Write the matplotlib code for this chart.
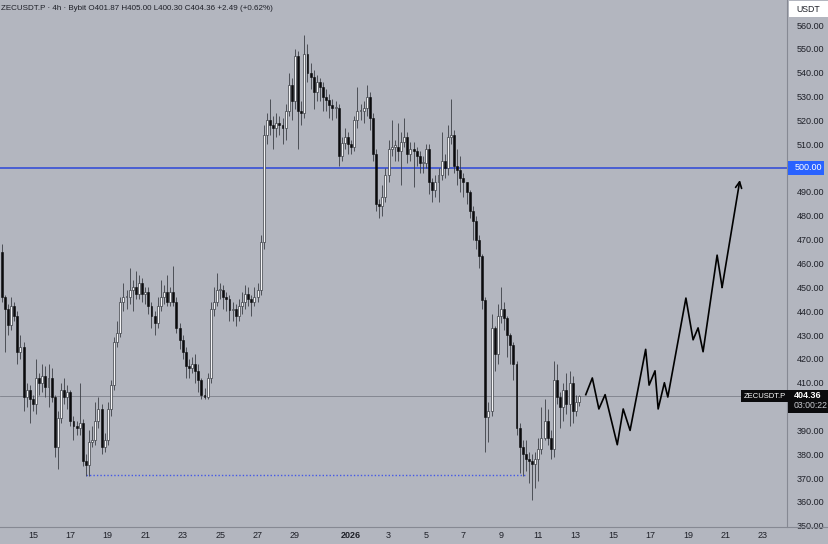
import matplotlib
matplotlib.use("Agg")
import matplotlib.pyplot as plt
import matplotlib.dates as mdates
from matplotlib.lines import Line2D
from matplotlib.patches import Rectangle
import numpy as np
import pandas as pd

plt.rcParams['font.family'] = ['Liberation Sans', 'DejaVu Sans']

# 4h candles of ZECUSDT.P
first_open = 465.0
closes = [
    446, 441, 434, 442, 438, 423, 425, 404, 407, 403,
    401, 412, 410, 413, 408, 412, 404, 383, 395, 407,
    404, 406, 394, 392, 391, 393, 377, 375.5, 385, 386,
    394, 399, 383, 386, 399, 409, 427, 431, 444, 446,
    446, 449, 450, 447, 452, 447, 448, 442, 438, 435,
    442, 446, 448, 444, 448, 444, 433, 428, 423, 417,
    416, 418, 415, 411, 405, 404, 412, 441, 444, 449,
    449, 446, 445, 440.5, 441, 438, 442, 444, 447, 445,
    444, 446, 449, 469, 514,
    520, 518, 517, 519, 518, 517, 524, 535, 528, 547,
    524, 523, 548, 540, 538, 532, 536, 534, 530, 528.6,
    526.5, 525, 525, 505, 510.5, 513, 510, 509, 520, 524,
    524, 525, 530, 521, 506, 485,
    484, 488, 497, 508, 509, 509, 507, 511, 513, 506,
    508, 507, 505, 502, 502, 508, 494, 491, 494, 497,
    503, 500, 513, 514, 501, 499, 496, 494, 490, 482,
    478, 470, 463,
    444.7, 395.6, 398, 433, 422, 438, 441, 437, 430, 426,
    418, 391, 383, 380, 378, 377, 376, 378, 382, 387,
    394, 387, 382, 411, 404, 400, 407, 401, 410, 398,
    401.87, 404.36,
]
highs = [
    468, 447, 443, 446, 444, 440, 430, 427, 410, 409,
    405, 420, 414, 418, 417, 418, 416, 405, 398, 410,
    412, 409, 407, 396, 394, 410, 395, 380, 390, 392,
    402, 404, 401, 389, 402, 411, 429, 436, 446, 452,
    449, 458, 453, 457, 455, 454, 450, 450, 444, 440,
    446, 453, 451, 455, 450, 459, 446, 435, 430, 425,
    420, 421, 422, 418, 412, 408, 414, 444, 450, 456,
    452, 451, 448, 447, 444, 443, 445, 448, 451, 450,
    447, 450, 452, 472, 518,
    523, 529, 522, 523, 522, 521, 527, 540, 538, 550,
    549, 528, 556, 552, 544, 541, 539, 538, 536, 533,
    531, 529, 528, 527, 513, 517, 515, 512, 522, 534,
    527, 528, 535, 532, 523, 508,
    487, 493, 500, 512, 520, 512, 519, 515, 521, 515,
    511, 511, 509, 507, 505, 510, 510, 496, 497, 500,
    515, 506, 518, 529, 516, 508, 505, 498, 494, 491,
    484, 480, 472,
    464, 446, 402, 439, 434, 443, 450, 444, 438, 431,
    427, 419, 393, 386, 386, 381, 380, 381, 387, 400,
    403, 399, 390, 419, 418, 406, 410, 414, 415, 413,
    405, 405,
]
lows = [
    444, 423, 430, 432, 436, 418, 420, 398, 400, 393,
    398, 397, 405, 406, 404, 400, 402, 379, 374, 393,
    401, 399, 392, 386, 388, 388, 375, 371, 371, 383,
    384, 391, 380, 381, 384, 396, 407, 425, 429, 440,
    441, 443, 440, 445, 445, 444, 443, 439, 433, 430,
    433, 440, 443, 442, 442, 442, 431, 424, 420, 412,
    412, 414, 410, 406, 403, 403, 403, 410, 438, 442,
    445, 441, 440, 436, 436, 434, 436, 439, 441, 442,
    438, 442, 444, 447, 466,
    510, 514, 508, 513, 514, 510, 512, 522, 520, 525,
    508, 518, 521, 536, 533, 525, 528, 528, 524, 524,
    521, 520, 521, 501, 503, 508, 506, 506, 507, 517,
    520, 519, 522, 516, 503, 482,
    479, 480, 486, 494, 505, 503, 503, 493, 509, 502,
    503, 492, 501, 498, 498, 500, 489, 486, 488, 486,
    495, 496, 497, 510, 498, 493, 490, 488, 485, 479,
    470, 466, 458,
    441, 381, 385, 396, 415, 418, 435, 432, 421, 418,
    411, 388, 372, 371, 373, 368, 361, 366, 369, 380,
    386, 384, 378, 379, 401, 391, 394, 397, 392, 393,
    396, 400.3,
]
assert len(closes) == len(highs) == len(lows) == 186

# hand-drawn projection
proj_times = ['2026-01-13 12:48', '2026-01-13 21:12', '2026-01-14 05:36', '2026-01-14 13:36',
              '2026-01-15 05:12', '2026-01-15 12:48', '2026-01-15 21:36', '2026-01-16 17:36',
              '2026-01-16 22:00', '2026-01-17 05:36', '2026-01-17 09:36', '2026-01-17 17:36',
              '2026-01-17 22:00', '2026-01-18 21:12', '2026-01-19 06:24', '2026-01-19 12:48',
              '2026-01-19 19:12', '2026-01-20 13:12', '2026-01-20 19:36', '2026-01-21 18:24']
proj_prices = [405, 412, 399, 405, 384, 399, 390, 424, 409, 415,
               399, 410, 404, 445.5, 428, 433, 423, 463.5, 450, 495]

level_blue = 500.0
level_dotted = 371.3
dotted_start, dotted_end = '2025-12-17 20:00', '2026-01-10 10:00'

tick_dates = ['2025-12-15', '2025-12-17', '2025-12-19', '2025-12-21', '2025-12-23',
              '2025-12-25', '2025-12-27', '2025-12-29', '2026-01-01', '2026-01-03',
              '2026-01-05', '2026-01-07', '2026-01-09', '2026-01-11', '2026-01-13',
              '2026-01-15', '2026-01-17', '2026-01-19', '2026-01-21', '2026-01-23']
tick_labels = ['15', '17', '19', '21', '23', '25', '27', '29', '2026', '3',
               '5', '7', '9', '11', '13', '15', '17', '19', '21', '23']
price_ticks = list(range(350, 570, 10))
hidden_ticks = [400, 500]   # covered by the price boxes

bg = '#b3b6bf'
fig = plt.figure(figsize=(8.29, 5.44), dpi=100, facecolor=bg)
ax = fig.add_axes([0, 17 / 544, 787 / 829, 527 / 544], facecolor=bg)

times = pd.date_range('2025-12-13 08:00', periods=len(closes), freq='4h')
x = mdates.date2num(times)
opens = [first_open] + closes[:-1]
step = 4 / 24
w = step * 0.62

ax.vlines(x, lows, highs, color='#3c3f46', lw=0.6, zorder=2)
for xi, o, c in zip(x, opens, closes):
    bot = min(o, c)
    h = max(abs(c - o), 0.5)
    if c < o:
        ax.bar(xi, h, bottom=bot, width=w, color='#0b0b0d', edgecolor='#0b0b0d', lw=0.4, zorder=3)
    else:
        ax.bar(xi, h, bottom=bot, width=w, color='#f4f4f6', edgecolor='#3c3f46', lw=0.5, zorder=3)

# levels
ax.axhline(level_blue, color='#2c46d8', lw=1.1, zorder=1)
ax.axhline(closes[-1], color='#7d808a', lw=0.6, zorder=1)
ax.hlines(level_dotted, mdates.date2num(pd.Timestamp(dotted_start)),
          mdates.date2num(pd.Timestamp(dotted_end)), color='#4458e6', lw=1.0,
          linestyles=(0, (1, 1.5)), zorder=1)

# projection path
px = mdates.date2num(pd.to_datetime(proj_times))
ax.plot(px[:-1], proj_prices[:-1], color='black', lw=1.2, zorder=4)
ax.annotate('', xy=(px[-1], proj_prices[-1]), xytext=(px[-2], proj_prices[-2]),
            arrowprops=dict(arrowstyle='->', lw=1.2, color='black', mutation_scale=11,
                            shrinkA=0, shrinkB=0), zorder=4)

x0 = x[0] - 0.55 * step
x1 = x[0] + 251.7 * step
ax.set_xlim(x0, x1)
ax.set_ylim(349.5, 570.5)

ax.set_xticks(mdates.date2num(pd.to_datetime(tick_dates)))
ax.set_xticklabels(tick_labels)
ax.yaxis.tick_right()
ax.set_yticks(price_ticks)
ax.set_yticklabels(['' if p in hidden_ticks else f'{p:.2f}' for p in price_ticks])
ax.tick_params(axis='x', length=0, pad=3, labelsize=6.5, colors='#1e2028')
ax.tick_params(axis='y', length=0, pad=7, labelsize=6.5, colors='#1e2028')
for t in ax.get_xticklabels():
    if t.get_text() == '2026':
        t.set_fontweight('bold')

for s in ['top', 'left']:
    ax.spines[s].set_visible(False)
ax.spines['right'].set_color('#868993')
ax.spines['right'].set_linewidth(0.8)
ax.spines['bottom'].set_visible(False)
fig.add_artist(Line2D([0, 1], [17 / 544, 17 / 544], color='#868993', lw=0.8))

# header
o_last, h_last, l_last, c_last = opens[-1], highs[-1], lows[-1], closes[-1]
chg = c_last - o_last
fig.text(0.001, 1 - 8 / 544,
         f'ZECUSDT.P · 4h · Bybit O{o_last:.2f} H{h_last:.2f} L{l_last:.2f} '
         f'C{c_last:.2f} {chg:+.2f} ({chg / o_last * 100:+.2f}%)',
         fontsize=5.8, color='#1e2028', va='center', ha='left')

# axis labels / boxes
fig.patches.append(Rectangle((789 / 829, 1 - 17 / 544), 40 / 829, 16 / 544,
                             transform=fig.transFigure, facecolor='white', edgecolor='none'))
fig.text(808 / 829, 1 - 9 / 544, 'USDT', fontsize=6.3, color='#1e2028', ha='center', va='center')

fig.patches.append(Rectangle((788 / 829, 1 - 175 / 544), 36 / 829, 14 / 544,
                             transform=fig.transFigure, facecolor='#2962ff', edgecolor='none',
                             zorder=5))
fig.text(795 / 829, 1 - 168 / 544, f'{level_blue:.2f}', fontsize=6.5, color='white',
         ha='left', va='center', zorder=6)

ytr = ax.get_yaxis_transform()
ax.text(1.0 - 1 / 787, c_last, 'ZECUSDT.P', transform=ytr, clip_on=False,
        fontsize=5.5, color='white', ha='right', va='center', zorder=6,
        bbox=dict(boxstyle='square,pad=0.3', facecolor='#0b0b0d', edgecolor='none'))
fig.patches.append(Rectangle((788 / 829, 1 - 413 / 544), 41 / 829, 23 / 544,
                             transform=fig.transFigure, facecolor='#0b0b0d', edgecolor='none',
                             zorder=5))
fig.text(794 / 829, 1 - 396 / 544, f'{c_last:.2f}', fontsize=6.5, color='white',
         fontweight='bold', ha='left', va='center', zorder=6)
fig.text(794 / 829, 1 - 406 / 544, '03:00:22', fontsize=6.3, color='#c8cad0',
         ha='left', va='center', zorder=6)

fig.savefig('out.png', dpi=100, facecolor=bg)
